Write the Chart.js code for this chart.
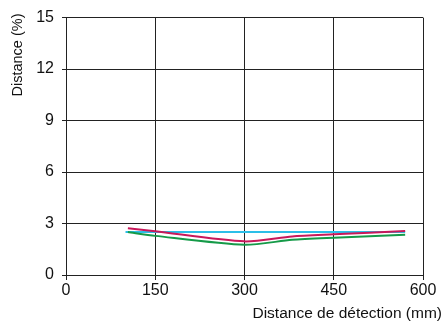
<!DOCTYPE html>
<html>
<head>
<meta charset="utf-8">
<script src="https://cdn.jsdelivr.net/npm/chart.js@4.4.0/dist/chart.umd.min.js"></script>
<style>
  html, body { margin: 0; padding: 0; background: #fff; }
  #wrap { width: 445px; height: 322px; position: relative; }
</style>
</head>
<body>
<div id="wrap"><canvas id="chart" width="445" height="322"></canvas></div>
<script>
// Sensing distance vs. deviation, three materials
const blueX = [100, 570];
const blueY = [2.5, 2.5];

const redX = [104, 150, 300, 380, 450, 570];
const redY = [2.72, 2.55, 1.96, 2.25, 2.37, 2.56];

const greenX = [104, 150, 300, 380, 450, 570];
const greenY = [2.5, 2.28, 1.76, 2.05, 2.17, 2.34];

const xTitle = 'Distance de détection (mm)';
const yTitle = 'Distance (%)';

const fontFamily = '"Liberation Sans", Arial, sans-serif';

function toPoints(xs, ys) {
    return xs.map((x, i) => ({ x: x, y: ys[i] }));
}

// axis titles drawn by hand so they sit where they should
const axisTitles = {
    id: 'axisTitles',
    afterDraw(chart) {
        const ctx = chart.ctx;
        ctx.save();
        ctx.fillStyle = '#111';
        ctx.font = '15.5px ' + fontFamily;
        ctx.textAlign = 'right';
        ctx.textBaseline = 'middle';
        ctx.fillText(xTitle, 442, 314);
        ctx.translate(18, 55);
        ctx.rotate(-Math.PI / 2);
        ctx.textAlign = 'center';
        ctx.font = '14.5px ' + fontFamily;
        ctx.fillText(yTitle, 0, 0);
        ctx.restore();
    }
};

const ctx = document.getElementById('chart').getContext('2d');
new Chart(ctx, {
    type: 'line',
    data: {
        datasets: [
            { data: toPoints(redX, redY), borderColor: '#c8185a', borderWidth: 2, pointRadius: 0, tension: 0.25 },
            { data: toPoints(greenX, greenY), borderColor: '#159a48', borderWidth: 2, pointRadius: 0, tension: 0.25 },
            { data: toPoints(blueX, blueY), borderColor: '#2cbfe8', borderWidth: 2, pointRadius: 0, tension: 0 }
        ]
    },
    options: {
        responsive: false,
        animation: false,
        layout: { padding: { left: 0, top: 17, right: 22, bottom: 0 } },
        plugins: { legend: { display: false }, tooltip: { enabled: false } },
        scales: {
            x: {
                type: 'linear',
                min: 0,
                max: 600,
                ticks: { stepSize: 150, color: '#111', padding: 1, font: { size: 16, family: fontFamily } },
                grid: { color: '#222', lineWidth: 1, tickLength: 5 },
                border: { color: '#222', width: 1 },
                afterFit(scale) { scale.height = 47; }
            },
            y: {
                min: 0,
                max: 15,
                ticks: { stepSize: 3, color: '#111', padding: 8, font: { size: 16, family: fontFamily } },
                grid: { color: '#222', lineWidth: 1, tickLength: 4 },
                border: { color: '#222', width: 1 },
                afterFit(scale) { scale.width = 66; }
            }
        }
    },
    plugins: [axisTitles]
});
</script>
</body>
</html>
